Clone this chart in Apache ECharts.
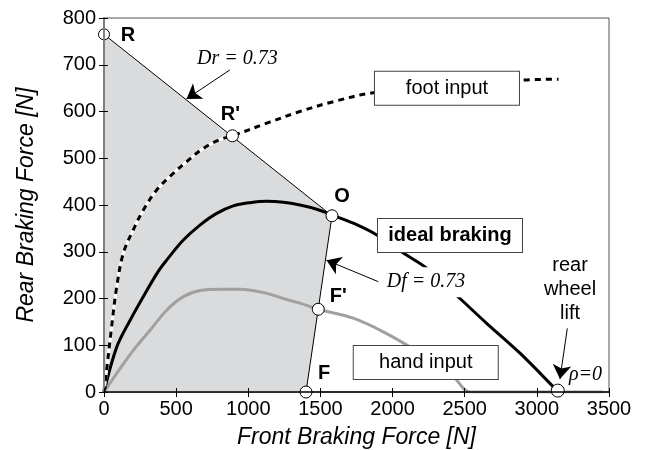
<!DOCTYPE html>
<html><head><meta charset="utf-8">
<script src="https://cdn.jsdelivr.net/npm/echarts@6/dist/echarts.min.js"></script>
<style>html,body{margin:0;padding:0;background:#fff}#c{width:648px;height:450px}</style>
</head><body><div id="c"></div>
<script>
// ---------- data ----------
const xTickValues = [0, 500, 1000, 1500, 2000, 2500, 3000, 3500];
const yTickValues = [0, 100, 200, 300, 400, 500, 600, 700, 800];
const xTitle = 'Front Braking Force [N]';
const yTitle = 'Rear Braking Force [N]';

const idealBraking = [[0,0],[88,96],[180,153],[272,204],[376,258],[434,282],[550,325],[665,357],[781,382],[896,398],[1012,405],[1128,408],[1243,406],[1358,400],[1474,391],[1578,379],[1728,361],[1890,336],[2097,293],[2236,265],[2467,200],[2652,147],[2883,83],[3114,11],[3145,0]];
const footInput = [[0,0],[18,46],[53,140],[88,225],[134,297],[203,347],[272,389],[365,432],[457,461],[573,493],[688,521],[804,540],[890,548],[1128,575],[1358,600],[1589,621],[1866,640],[2895,667],[3150,669]];
const handInput = [[0,0],[111,50],[203,89],[319,132],[434,175],[550,204],[665,217],[804,220],[942,220],[1128,211],[1243,200],[1358,190],[1485,177],[1728,158],[1959,125],[2190,83],[2421,33],[2540,0],[3460,0]];
const regionVertices = [[0,0],[0,765],[1580,377],[1400,0]];
const boundaryLine = [[0,765],[1580,377],[1400,0]];
const keyPointNames = ['R', "R'", 'O', "F'", 'F', ''];
const keyPointValues = [[0,765],[890,548],[1580,377],[1485,177],[1400,0],[3145,3]];
const boxTexts = ['foot input', 'ideal braking', 'hand input'];
const boxAnchors = [[2377,650],[2398,335],[2230,63]];
const noteTexts = ['Dr = 0.73', 'Df = 0.73', 'ρ=0'];
const noteAnchors = [[925,712],[2232,235],[3337,36]];
const liftText = 'rear\nwheel\nlift';
const liftAnchor = [3230,220];
const arrowSegments = [[[873,689],[572,627]], [[1901,236],[1542,282]], [[3211,136],[3160,28]]];

// ---------- chart ----------
const SANS = 'Liberation Sans, Arial, sans-serif';
const SERIF = 'Liberation Serif, Times New Roman, serif';
const chart = echarts.init(document.getElementById('c'), null, {renderer: 'canvas'});

const pointLabelOffsets = [[24,1],[-2,-21],[10,-19],[20,-13],[18,-19],[0,0]];
const boxStyles = [
  {fontWeight: 'normal'}, {fontWeight: 'bold'}, {fontWeight: 'normal'}
];

const axisCommonX = {type: 'value', min: 0, max: 3500, interval: 500};
const axisCommonY = {type: 'value', min: 0, max: 800, interval: 100};
const plainNum = v => String(v);
const hiddenItem = {color: 'rgba(0,0,0,0)', opacity: 1};

const option = {
  animation: false,
  backgroundColor: '#fff',
  grid: {left: 104, right: 39, top: 18, bottom: 58, show: true, borderColor: '#555', borderWidth: 1, containLabel: false, outerBoundsMode: 'none'},
  xAxis: [
    Object.assign({}, axisCommonX, {
      axisLine: {lineStyle: {color: '#000', width: 1.5}},
      axisTick: {length: 5, lineStyle: {color: '#000'}},
      axisLabel: {fontSize: 20, color: '#000', margin: 7, fontFamily: SANS, formatter: plainNum},
      splitLine: {show: false},
      name: xTitle, nameLocation: 'middle', nameGap: 34,
      nameTextStyle: {fontSize: 23, fontStyle: 'italic', color: '#000', fontFamily: SANS},
      z: 10
    }),
    Object.assign({}, axisCommonX, {
      position: 'bottom', axisLine: {show: false},
      axisTick: {inside: true, length: 4, lineStyle: {color: '#000'}},
      axisLabel: {show: false}, splitLine: {show: false}, z: 10
    })
  ],
  yAxis: [
    Object.assign({}, axisCommonY, {
      axisLine: {show: true, lineStyle: {color: '#808080', width: 2}},
      axisTick: {show: true, length: 5, lineStyle: {color: '#000'}},
      axisLabel: {fontSize: 20, color: '#000', margin: 8, fontFamily: SANS, formatter: plainNum},
      splitLine: {show: false},
      name: yTitle, nameLocation: 'middle', nameGap: 66, nameRotate: 90,
      nameTextStyle: {fontSize: 23, fontStyle: 'italic', color: '#000', fontFamily: SANS},
      z: 10
    }),
    Object.assign({}, axisCommonY, {
      position: 'left', axisLine: {show: false},
      axisTick: {show: true, inside: true, length: 4, lineStyle: {color: '#000'}},
      axisLabel: {show: false}, splitLine: {show: false}, z: 10
    })
  ],
  series: [
    {
      type: 'custom', z: 1, silent: true,
      data: [0],
      renderItem: function (params, api) {
        const pts = regionVertices.map(v => api.coord(v));
        return {type: 'polygon', shape: {points: pts}, style: {fill: '#dadbdc', stroke: 'none'}};
      }
    },
    {
      type: 'line', z: 2, data: boundaryLine, showSymbol: false, symbol: 'none',
      lineStyle: {color: '#000', width: 1}
    },
    {
      type: 'line', z: 3, data: handInput, showSymbol: false, symbol: 'none',
      smooth: 0.35,
      lineStyle: {color: '#a0a0a0', width: 3}
    },
    {
      type: 'line', z: 3, data: idealBraking, showSymbol: false, symbol: 'none',
      smooth: 0.35,
      lineStyle: {color: '#000', width: 3}
    },
    {
      type: 'line', z: 3, data: footInput, showSymbol: false, symbol: 'none',
      smooth: 0.35,
      lineStyle: {color: '#fff', width: 3}
    },
    {
      type: 'line', z: 4, data: footInput, showSymbol: false, symbol: 'none',
      smooth: 0.35,
      lineStyle: {color: '#000', width: 3, type: [6, 5]}
    },
    {
      type: 'lines', coordinateSystem: 'cartesian2d', z: 5,
      symbol: ['none', 'arrow'], symbolSize: [1, 14],
      lineStyle: {color: '#000', width: 1, opacity: 1, curveness: 0},
      data: arrowSegments.map(s => ({coords: s}))
    },
    {
      type: 'scatter', z: 6,
      symbol: 'circle', symbolSize: 12,
      itemStyle: {color: '#fff', borderColor: '#000', borderWidth: 1, opacity: 1},
      data: keyPointValues.map((v, i) => ({
        value: v, name: keyPointNames[i],
        symbolSize: i === 5 ? 13 : (i === 0 ? 11 : 12),
        label: {show: true, position: 'inside', offset: pointLabelOffsets[i], formatter: '{b}',
          fontSize: 20, fontWeight: 'bold', color: '#000', fontFamily: SANS, opacity: 1}
      }))
    },
    {
      type: 'scatter', z: 7, symbolSize: 1, itemStyle: hiddenItem,
      data: boxAnchors.map((v, i) => ({
        value: v, name: boxTexts[i],
        label: Object.assign({show: true, position: 'inside', formatter: '{b}', opacity: 1,
          fontSize: 20, color: '#000', fontFamily: SANS,
          backgroundColor: '#fff', borderColor: '#444', borderWidth: 1,
          width: 144, height: 33, lineHeight: 33, align: 'center', verticalAlign: 'middle', padding: 0}, boxStyles[i])
      }))
    },
    {
      type: 'scatter', z: 7, symbolSize: 1, itemStyle: hiddenItem,
      data: noteAnchors.map((v, i) => ({
        value: v, name: noteTexts[i],
        label: {show: true, position: 'inside', formatter: '{b}', opacity: 1,
          fontSize: 20, fontStyle: 'italic', color: '#000', fontFamily: SERIF,
          backgroundColor: i === 1 ? '#fff' : 'transparent', padding: [5, 3]}
      })).concat([{
        value: liftAnchor, name: liftText,
        label: {show: true, position: 'inside', formatter: '{b}', fontSize: 20, lineHeight: 24, opacity: 1,
          color: '#000', fontFamily: SANS, align: 'center'}
      }])
    }
  ]
};
chart.setOption(option);
</script></body></html>
